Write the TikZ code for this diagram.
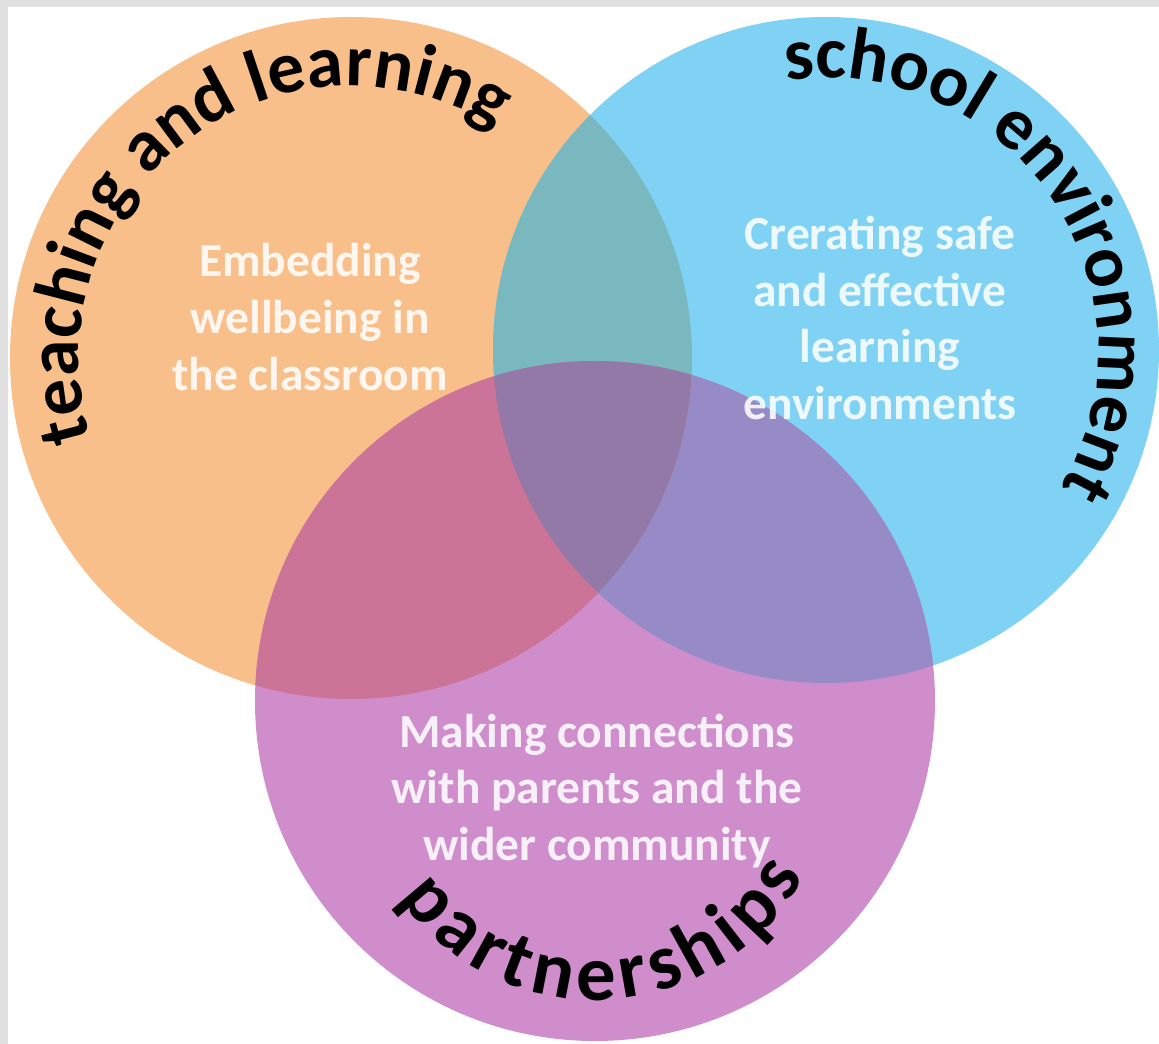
\documentclass[tikz,border=0pt]{standalone}
\usepackage{fontspec}
\setmainfont{Carlito}
\usetikzlibrary{decorations.text}
\definecolor{peach}{HTML}{F9BF8B}
\definecolor{sky}{HTML}{7FD2F4}
\definecolor{orchid}{HTML}{CF8DCB}
\definecolor{tealmix}{HTML}{79B8BF}
\definecolor{rosemix}{HTML}{CC7398}
\definecolor{violetmix}{HTML}{968BC6}
\definecolor{coremix}{HTML}{9279A8}
\definecolor{framegray}{HTML}{E0E0E0}
\newcommand\ringfont{\bfseries\fontsize{21}{21}\selectfont}
\newcommand\bigringfont{\bfseries\fontsize{22.5}{22.5}\selectfont}

\begin{document}
\begin{tikzpicture}[
    inner/.style={text=white, text opacity=.87, align=center,
                  font=\bfseries\fontsize{13.5}{16.2}\selectfont},
    ringtext/.style={decorate, decoration={text along path, text align=center,
                  text={|\ringfont|#1}}}]
  \useasboundingbox (0,0) rectangle (11.59,10.44);
  \fill[framegray] (0,0) rectangle (11.59,10.44);
  \fill[white] (0.08,0) rectangle (11.59,10.37);

  \coordinate (T) at (3.51,6.86);
  \coordinate (S) at (8.26,6.94);
  \coordinate (P) at (5.95,3.43);
  \coordinate (Pt) at (5.95,2.84); % centre of the partnerships lettering

  % circles
  \fill[peach]  (T) circle (3.41);
  \fill[sky]    (S) circle (3.33);
  \fill[orchid] (P) circle (3.40);

  % overlaps
  \begin{scope}
    \clip (S) circle (3.33);
    \fill[violetmix] (P) circle (3.40);
  \end{scope}
  \begin{scope}
    \clip (T) circle (3.41);
    \fill[tealmix] (S) circle (3.33);
    \fill[rosemix] (P) circle (3.40);
    \clip (S) circle (3.33);
    \fill[coremix] (P) circle (3.40);
  \end{scope}

  % labels round the edges
  \path[ringtext={teaching and learning}] (T) ++(200:2.72) arc[start angle=200, end angle=55, radius=2.72];
  \path[ringtext={school environment}] (S) ++(104:2.72) arc[start angle=104, end angle=-36, radius=2.72];
  \path[decorate, decoration={text effects along path, text={partnerships}, text align=center,
        text effects/.cd, text along path,
        character widths={font=\bigringfont, inner xsep=0.9pt},
        characters={font=\bigringfont, text=black, inner xsep=0.9pt}}]
    (Pt) ++(210:2.40) arc[start angle=210, end angle=336, radius=2.40];

  \node[inner] (emb)  at (3.10,7.27) {Embedding\\wellbeing in\\the classroom};
  \node[inner] (safe) at (8.80,7.26) {Crerating safe\\and effective\\learning\\environments};
  \node[inner] (conn) at (5.97,2.53) {Making connections\\with parents and the\\wider community};
\end{tikzpicture}
\end{document}
